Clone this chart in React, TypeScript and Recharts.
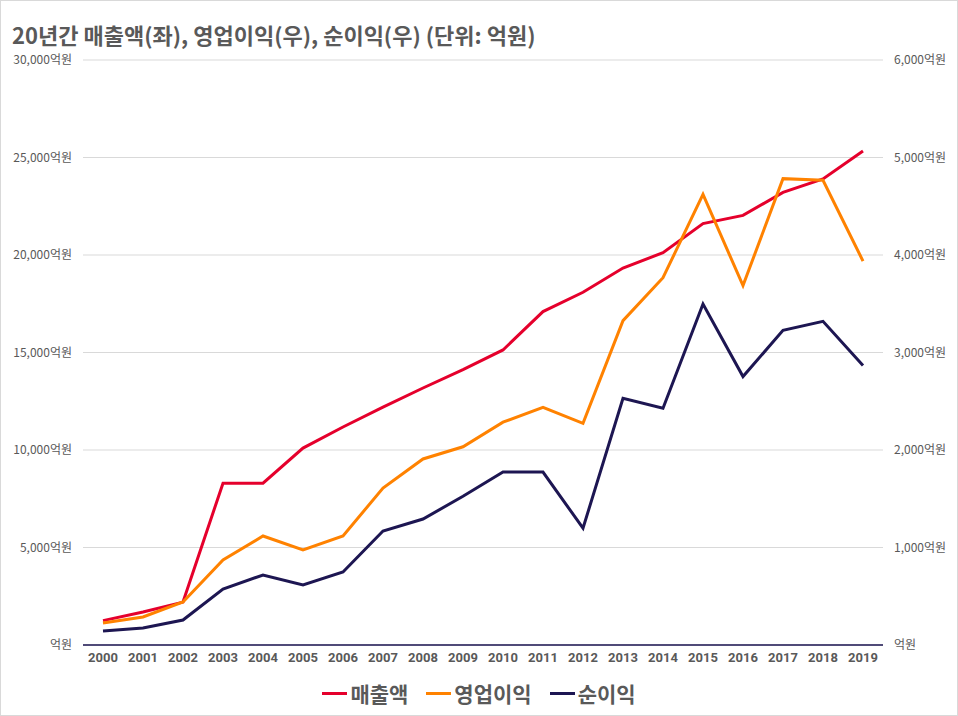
import React from "react";
import { Legend, Line, LineChart, CartesianGrid, XAxis, YAxis } from "recharts";

const years = [
  "2000", "2001", "2002", "2003", "2004", "2005", "2006", "2007", "2008", "2009",
  "2010", "2011", "2012", "2013", "2014", "2015", "2016", "2017", "2018", "2019",
];

// 매출액 (좌축, 억원)
const sales = [
  1250, 1690, 2200, 8300, 8300, 10100, 11180, 12200, 13180, 14120,
  15130, 17100, 18090, 19330, 20120, 21610, 22030, 23210, 23900, 25330,
];

// 영업이익 (우축, 억원)
const operatingProfit = [
  225, 287, 441, 872, 1118, 974, 1118, 1610, 1908, 2033,
  2285, 2438, 2273, 3327, 3767, 4622, 3686, 4783, 4766, 3938,
];

// 순이익 (우축, 억원)
const netProfit = [
  144, 174, 256, 574, 718, 615, 749, 1169, 1292, 1525,
  1774, 1774, 1198, 2530, 2428, 3497, 2753, 3227, 3320, 2866,
];

const leftTicks = [0, 5000, 10000, 15000, 20000, 25000, 30000];
const rightTicks = [0, 1000, 2000, 3000, 4000, 5000, 6000];

const data = years.map((year, i) => ({
  year,
  sales: sales[i],
  op: operatingProfit[i],
  net: netProfit[i],
}));

const RED = "#e5002c";
const ORANGE = "#ff8200";
const NAVY = "#1d1652";
const TEXT = "#595959";
const KR = '"Noto Sans CJK KR", "Noto Sans", sans-serif';

const fmt = (v: number) => (v === 0 ? "억원" : `${v.toLocaleString("en-US")}억원`);

const legendItems = [
  { label: "매출액", color: RED },
  { label: "영업이익", color: ORANGE },
  { label: "순이익", color: NAVY },
];

function LegendContent() {
  return (
    <div
      style={{
        display: "flex",
        justifyContent: "center",
        alignItems: "center",
        height: 46,
        gap: 18,
        fontFamily: KR,
      }}
    >
      {legendItems.map((it) => (
        <div key={it.label} style={{ display: "flex", alignItems: "center", gap: 3 }}>
          <span style={{ display: "inline-block", width: 25, height: 3, background: it.color }} />
          <span style={{ fontSize: 21, fontWeight: 700, color: TEXT, lineHeight: "24px" }}>{it.label}</span>
        </div>
      ))}
    </div>
  );
}

export default function App() {
  return (
    <div style={{ position: "absolute", left: 0, top: 0, width: 958, height: 716, background: "#fff" }}>
      <div
        style={{
          position: "absolute",
          left: 12,
          top: 19,
          fontFamily: KR,
          fontSize: 22,
          fontWeight: 700,
          color: TEXT,
          lineHeight: "30px",
          whiteSpace: "nowrap",
        }}
      >
        20년간 매출액(좌), 영업이익(우), 순이익(우) (단위: 억원)
      </div>
      <LineChart width={958} height={716} data={data} margin={{ top: 60, right: 0, left: 0, bottom: 0 }}>
        <CartesianGrid vertical={false} stroke="#d9d9d9" yAxisId="left" />
        <XAxis
          dataKey="year"
          tickLine={false}
          axisLine={{ stroke: NAVY, strokeWidth: 1.5 }}
          padding={{ left: 20, right: 20 }}
          interval={0}
          height={25}
          tick={{ fill: TEXT, fontSize: 13, fontWeight: 700, fontFamily: '"Liberation Sans Narrow", "Roboto", sans-serif' }}
        />
        <YAxis
          yAxisId="left"
          orientation="left"
          width={83}
          domain={[0, 30000]}
          ticks={leftTicks}
          tickLine={false}
          axisLine={false}
          tickMargin={5}
          tickFormatter={fmt}
          tick={{ fill: TEXT, fontSize: 12, fontFamily: KR }}
        />
        <YAxis
          yAxisId="right"
          orientation="right"
          width={75}
          domain={[0, 6000]}
          ticks={rightTicks}
          tickLine={false}
          axisLine={false}
          tickMargin={5}
          tickFormatter={fmt}
          tick={{ fill: TEXT, fontSize: 12, fontFamily: KR }}
        />
        <Legend verticalAlign="bottom" height={46} content={() => <LegendContent />} />
        <Line
          yAxisId="left"
          type="linear"
          dataKey="sales"
          name="매출액"
          stroke={RED}
          strokeWidth={3}
          dot={false}
          isAnimationActive={false}
        />
        <Line
          yAxisId="right"
          type="linear"
          dataKey="op"
          name="영업이익"
          stroke={ORANGE}
          strokeWidth={3}
          dot={false}
          isAnimationActive={false}
        />
        <Line
          yAxisId="right"
          type="linear"
          dataKey="net"
          name="순이익"
          stroke={NAVY}
          strokeWidth={3}
          dot={false}
          isAnimationActive={false}
        />
      </LineChart>
      <div
        style={{
          position: "absolute",
          inset: 0,
          border: "1px solid #d9d9d9",
          pointerEvents: "none",
        }}
      />
    </div>
  );
}
